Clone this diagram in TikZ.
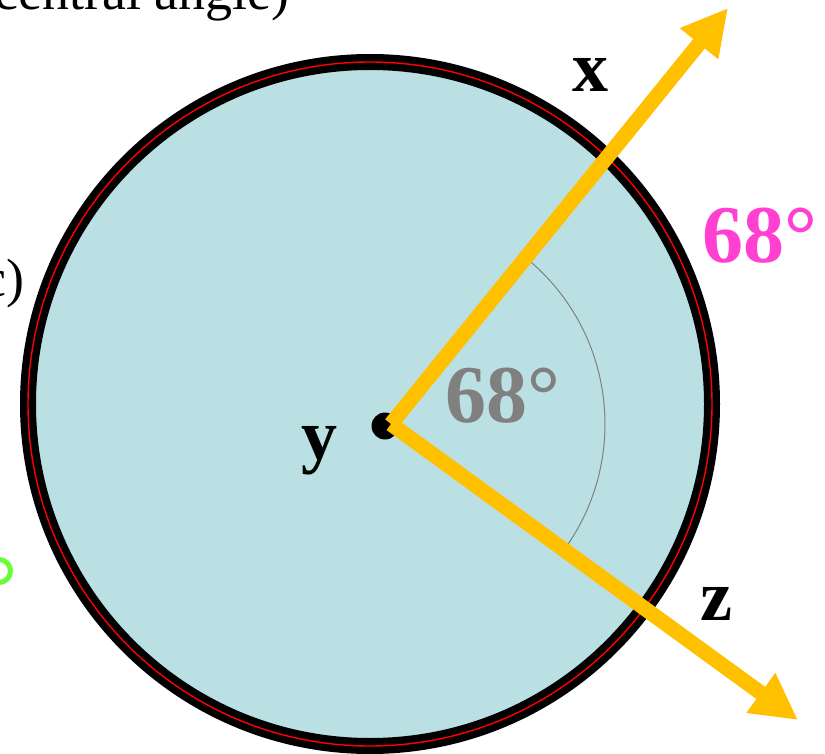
\documentclass[tikz,border=0pt]{standalone}
\usepackage{fontspec}
\setmainfont{Liberation Serif}
\usetikzlibrary{arrows.meta}
\definecolor{diskfill}{HTML}{BBE0E3}
\definecolor{rayorange}{HTML}{FFC000}
\definecolor{magentalbl}{HTML}{FF40D0}
\definecolor{greenring}{HTML}{66FF33}
\definecolor{anglegray}{HTML}{808080}
\begin{document}
\begin{tikzpicture}[x=1pt,y=-1pt,
  ray/.style={line width=15pt, draw=rayorange, -{Triangle[length=46pt,width=46pt]}},
  lbl/.style={font=\fontsize{72}{72}\selectfont\bfseries, inner sep=0pt, anchor=base},
  deglbl/.style={font=\fontsize{82}{82}\selectfont\bfseries, inner sep=0pt, anchor=base},
  plain/.style={font=\fontsize{54}{54}\selectfont, inner sep=0pt, anchor=base east}]
\useasboundingbox (0,0) rectangle (825,754);
\clip (0,0) rectangle (825,754);
% disc
\draw[line width=16pt, fill=diskfill] (370,404) circle[radius=342];
\draw[red, line width=1.4pt] (370,404) circle[radius=342];
% centre dot
\node[circle, fill=black, minimum size=27pt, inner sep=0pt] (D) at (385,426) {};
\coordinate (O) at (391,424);
% angle arc
\draw[anglegray, line width=1pt] (O) ++(35.6:214) arc[start angle=35.6, end angle=-50.9, radius=214];
% rays
\coordinate (xt) at (728,8);
\coordinate (zt) at (798,720);
\draw[ray] (O) -- (xt);
\draw[ray] (O) -- (zt);
% labels
\node[lbl] (lx) at (590,92) {x};
\node[lbl] (ly) at (319,459) {y};
\node[lbl] (lz) at (716,620) {z};
\node[deglbl, text=anglegray] (ang) at (503,422) {68°};
\node[deglbl, text=magentalbl] (arcm) at (760,262) {68°};
\node[plain] (t1) at (290,10) {central angle)};
\node[plain] (t2) at (25,297) {c)};
\draw[greenring, line width=5pt] (-1,571) circle[radius=11.5];
\end{tikzpicture}
\end{document}
